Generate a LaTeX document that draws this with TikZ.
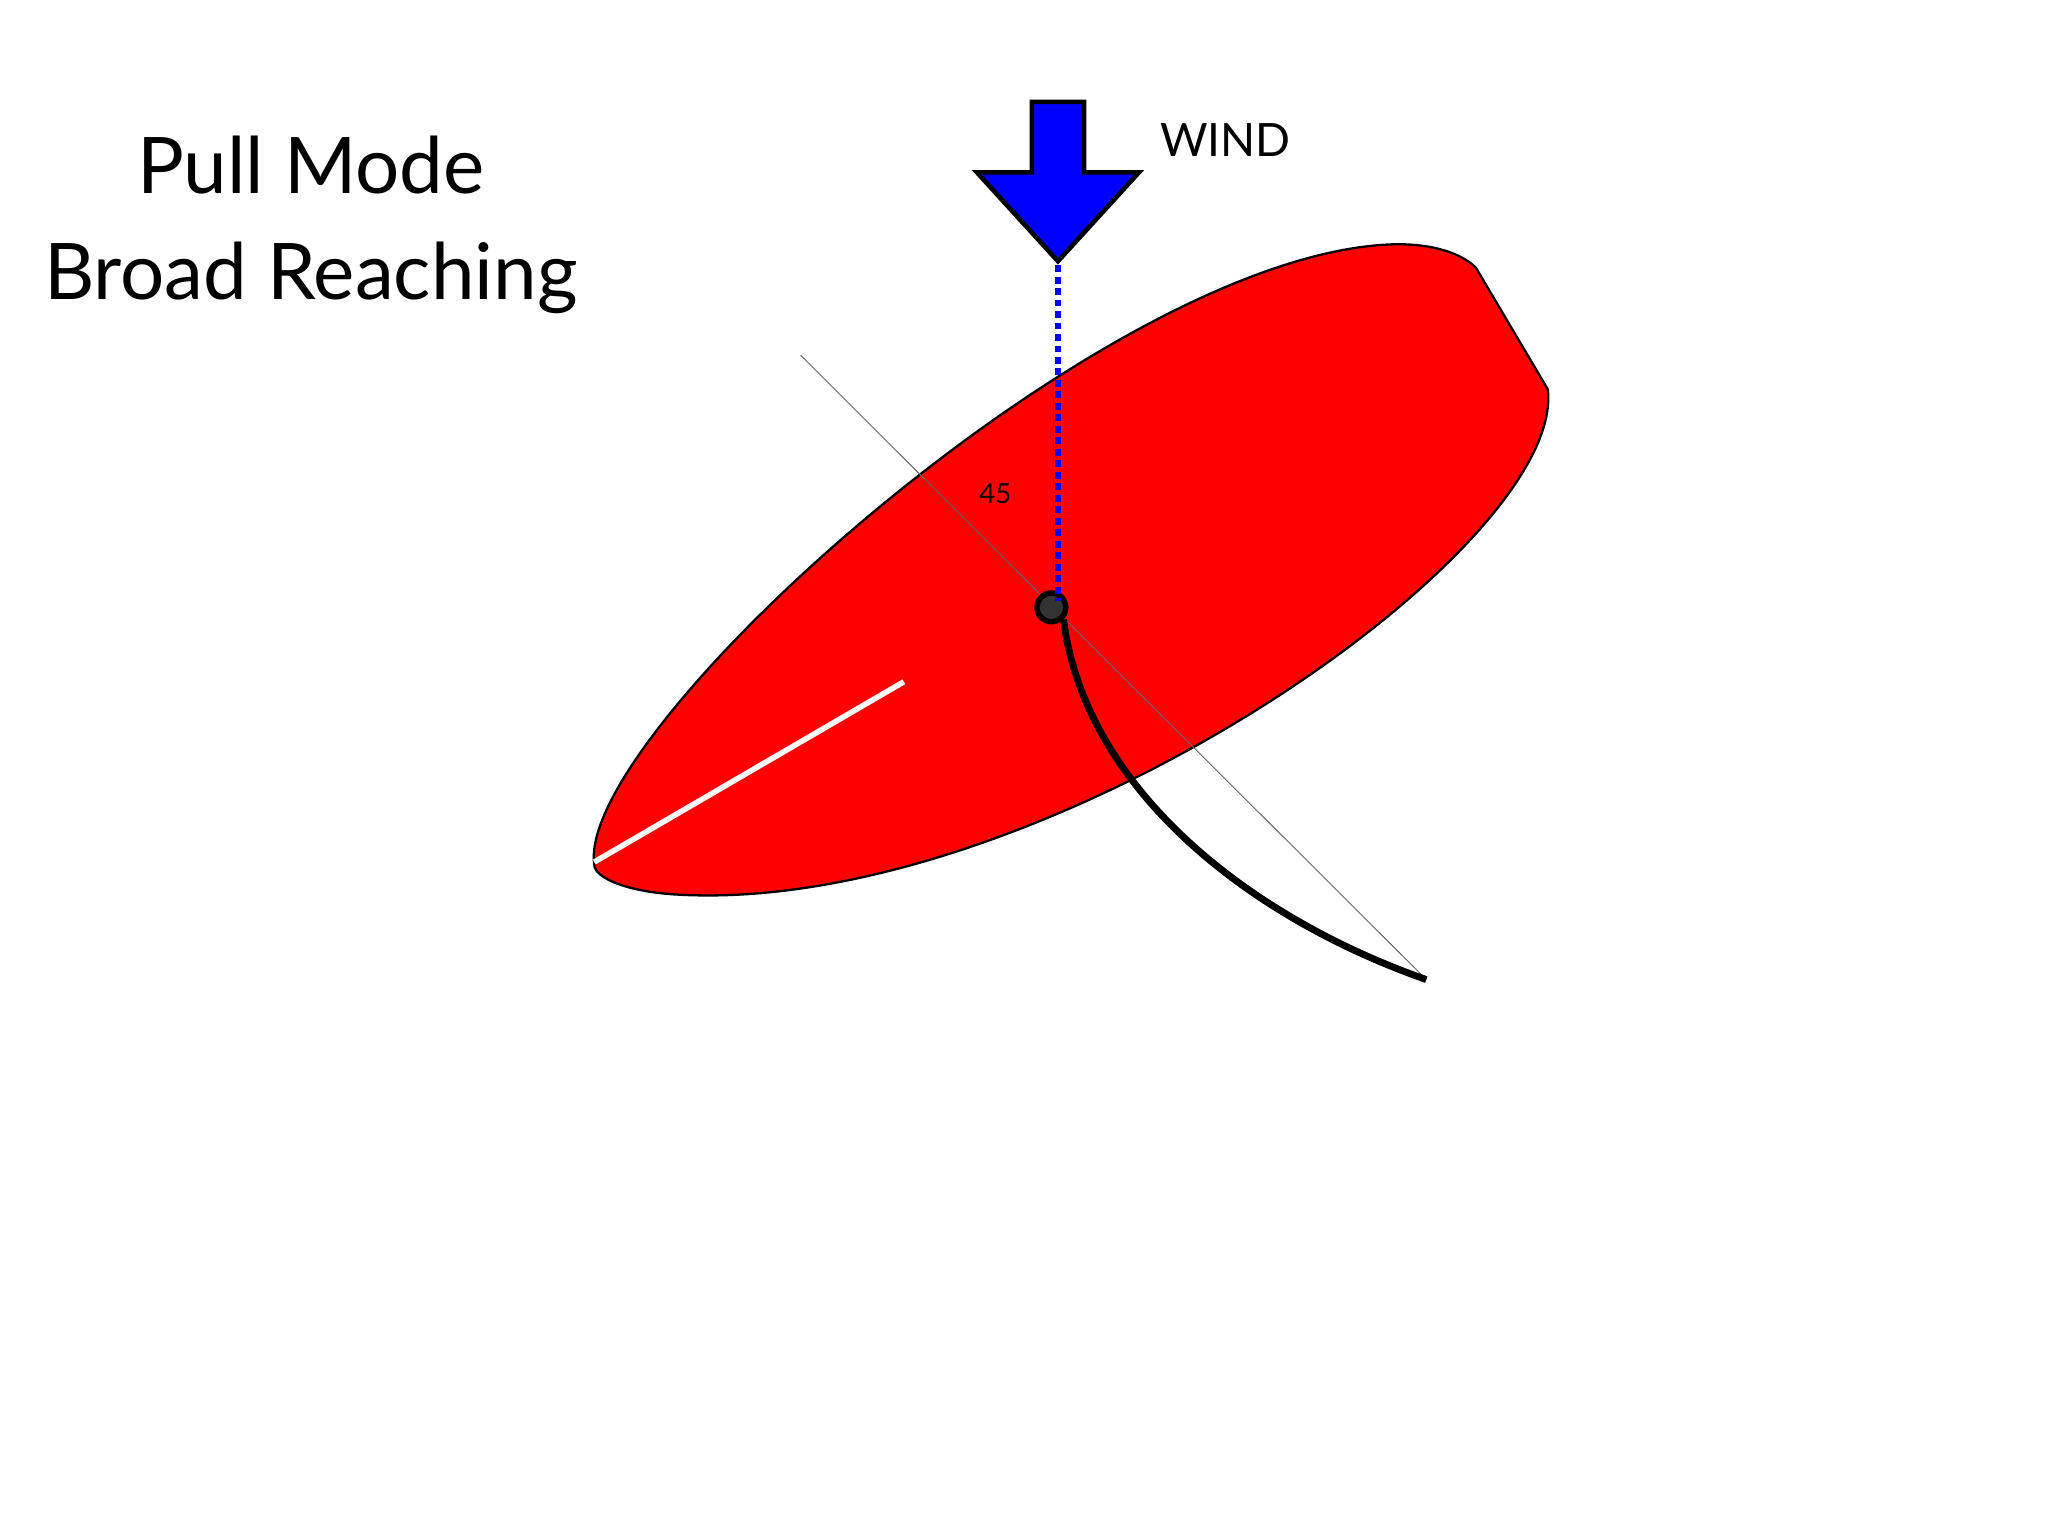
\documentclass[tikz,border=0pt]{standalone}
\usepackage{fontspec}
\setmainfont{Lato}
\begin{document}
\begin{tikzpicture}[x=0.01cm,y=-0.01cm]
\useasboundingbox (0,0) rectangle (1568,1176);
\fill[white] (0,0) rectangle (1568,1176);
% sail
\draw[fill=red,line width=0.5pt] (455,662) .. controls (440,560) and (850,190) .. (1070,187)
  .. controls (1100,187) and (1120,195) .. (1130,205) -- (1185,298)
  .. controls (1200,420) and (800,700) .. (520,685)
  .. controls (480,683) and (455,672) .. (455,662) -- cycle;
\draw[white,line width=1.2pt] (455,660) -- (692,522);
% axis
\coordinate (a1) at (613,272); \coordinate (a2) at (1092,750);
\draw[black!60,line width=0.2pt] (a1) -- (a2);
\node[font=\fontsize{6}{7}\selectfont] (ang) at (762,378) {45};
% wind arrow
\draw[fill=blue,line width=1pt] (790,78) -- (830,78) -- (830,132) -- (872,132) -- (810,200) -- (748,132) -- (790,132) -- cycle;
\coordinate (tip) at (810,203);
\node[font=\fontsize{10}{12}\selectfont,anchor=west] (wind) at (876,107) {WIND};
\node[circle,draw=black,line width=1.2pt,fill=black!80,minimum size=0.22cm,inner sep=0pt] (piv) at (805,465) {};
\draw[blue,line width=1.5pt,densely dotted] (tip) -- (810,460);
\draw[line width=1.5pt] (piv.south east) .. controls (830,600) and (950,700) .. (a2);
% title
\node[font=\fontsize{17}{22}\selectfont,align=center] (title) at (238,172) {Pull Mode\\[1pt]Broad Reaching};
\end{tikzpicture}
\end{document}
